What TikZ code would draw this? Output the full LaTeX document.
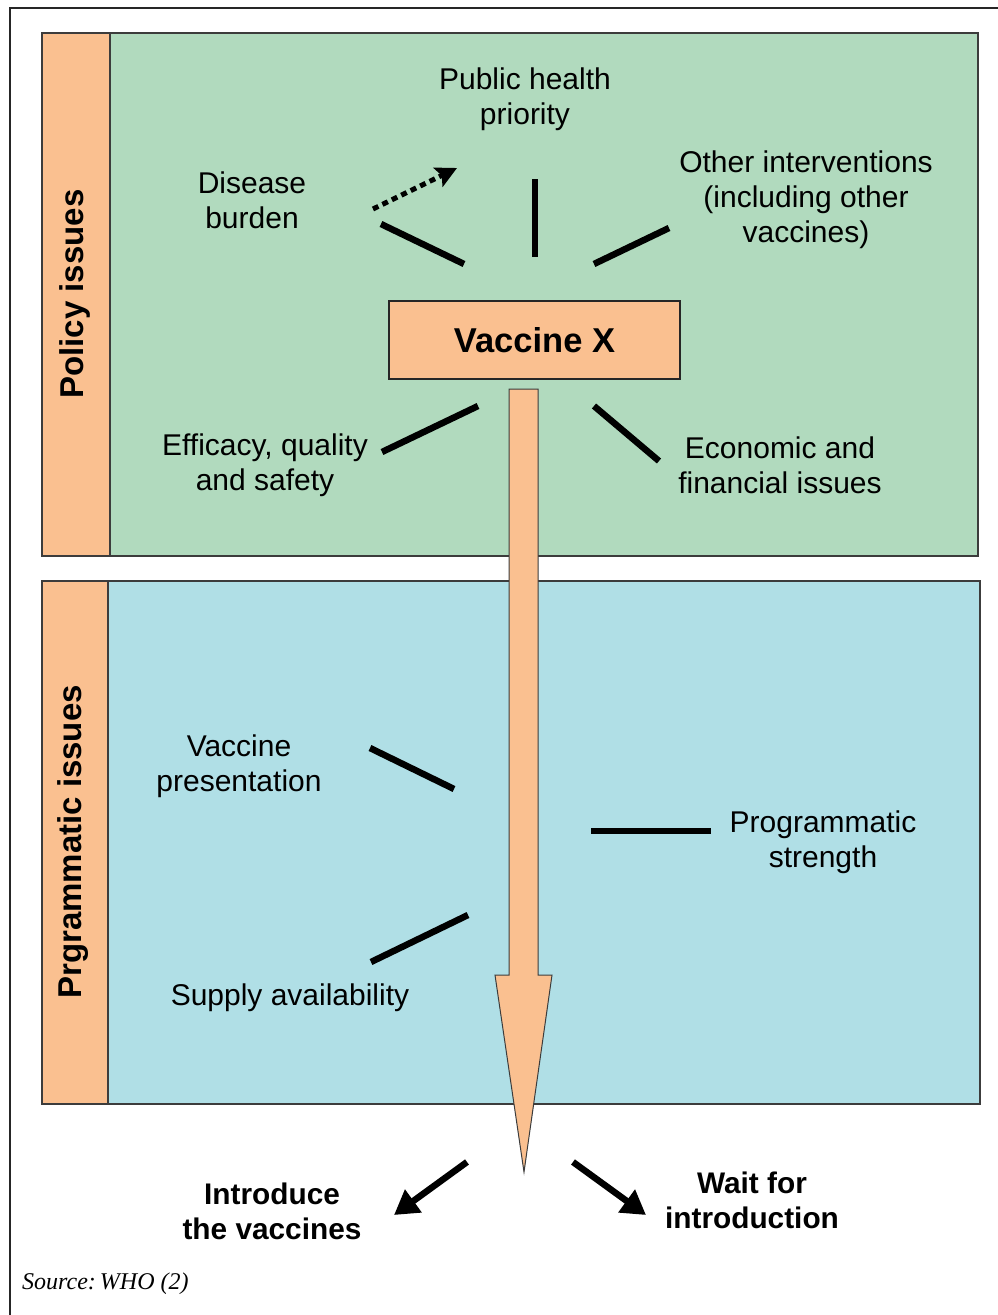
\documentclass[tikz,border=0pt]{standalone}
\usepackage{fontspec}
\setmainfont{Liberation Sans}
\newfontfamily\srcfont{Liberation Serif}
\usetikzlibrary{arrows.meta}
\definecolor{peach}{RGB}{250,192,144}
\definecolor{mint}{RGB}{177,218,190}
\definecolor{skyb}{RGB}{176,223,230}
\definecolor{edge}{RGB}{60,60,60}
\tikzset{
  panel/.style={draw=edge,line width=1.4pt},
  lbl/.style={align=center,font=\fontsize{30}{35}\selectfont,inner sep=0pt,yshift=-3pt},
  blbl/.style={align=center,font=\fontsize{29.8}{35}\selectfont\bfseries,inner sep=0pt,yshift=-2pt},
  side/.style={rotate=90,font=\fontsize{33}{38}\selectfont\bfseries,inner sep=0pt},
  tick/.style={line width=6.5pt},
  decide/.style={line width=6.5pt,-{Triangle[length=24pt,width=27pt]}},
  hint/.style={line width=5pt,dash pattern=on 6pt off 4.5pt,-{Stealth[length=21pt,width=21pt,inset=4pt]}}
}
\begin{document}
\begin{tikzpicture}[x=1pt,y=-1pt]
\useasboundingbox (0,0) rectangle (997,1315);
% outer frame
\draw[line width=2.6pt,color=black!85] (10,1320) -- (10,8) -- (1000,8);
% policy panel
\filldraw[panel,fill=mint] (42,33) rectangle (978,556);
\filldraw[panel,fill=peach] (42,33) rectangle (110,556);
\node[side] (pol) at (75,294) {Policy issues};
% programmatic panel
\filldraw[panel,fill=skyb] (42,581) rectangle (980,1104);
\filldraw[panel,fill=peach] (42,581) rectangle (108,1104);
\node[side] (prg) at (73,842) {Prgrammatic issues};
% vaccine box
\node[draw=black!85,line width=1.2pt,fill=peach,minimum width=291pt,minimum height=78pt,font=\fontsize{34.5}{40}\selectfont\bfseries,inner sep=0pt] (vx) at (534.5,340) {Vaccine X};
% big arrow
\filldraw[fill=peach,draw=edge,line width=1pt] (509,389) -- (538,389) -- (538,975) -- (552,975) -- (524,1172) -- (495,975) -- (509,975) -- cycle;
\coordinate (tip) at (524,1172);
% labels
\node[lbl] (db) at (252,197) {Disease\\burden};
\node[lbl] (ph) at (525,96) {Public health\\priority};
\node[lbl] (oi) at (806,197) {Other interventions\\(including other\\vaccines)};
\node[lbl] (ef) at (265,462) {Efficacy, quality\\and safety};
\node[lbl] (ec) at (780,462) {Economic and\\financial issues};
\node[lbl] (vp) at (239,763) {Vaccine\\presentation};
\node[lbl] (ps) at (823,839) {Programmatic\\strength};
\node[lbl] (sa) at (290,995) {Supply availability};
\node[blbl] (iv) at (272,1209) {Introduce\\the vaccines};
\node[blbl] (wf) at (752,1198) {Wait for\\introduction};
\node[anchor=west,inner sep=0pt,font=\srcfont\itshape\fontsize{24}{28}\selectfont] (src) at (22,1284) {Source:\,WHO (2)};
% tick lines
\coordinate (a1) at (381,224); \coordinate (a2) at (464,264);
\coordinate (b1) at (535,179); \coordinate (b2) at (535,257);
\coordinate (c1) at (594,264); \coordinate (c2) at (669,228);
\coordinate (d1) at (382,452); \coordinate (d2) at (478,406);
\coordinate (e1) at (594,406); \coordinate (e2) at (659,461);
\coordinate (f1) at (370,748); \coordinate (f2) at (454,789);
\coordinate (g1) at (591,831); \coordinate (g2) at (711,831);
\coordinate (h1) at (371,962); \coordinate (h2) at (468,915);
\foreach \p in {a,b,c,d,e,f,g,h} \draw[tick] (\p1) -- (\p2);
% dotted arrow
\coordinate (s1) at (373,209); \coordinate (s2) at (457,168);
\draw[hint] (s1) -- (s2);
% decision arrows
\coordinate (l1) at (467,1162); \coordinate (l2) at (394,1215);
\coordinate (r1) at (573,1162); \coordinate (r2) at (646,1215);
\draw[decide] (l1) -- (l2);
\draw[decide] (r1) -- (r2);
\end{tikzpicture}
\end{document}
